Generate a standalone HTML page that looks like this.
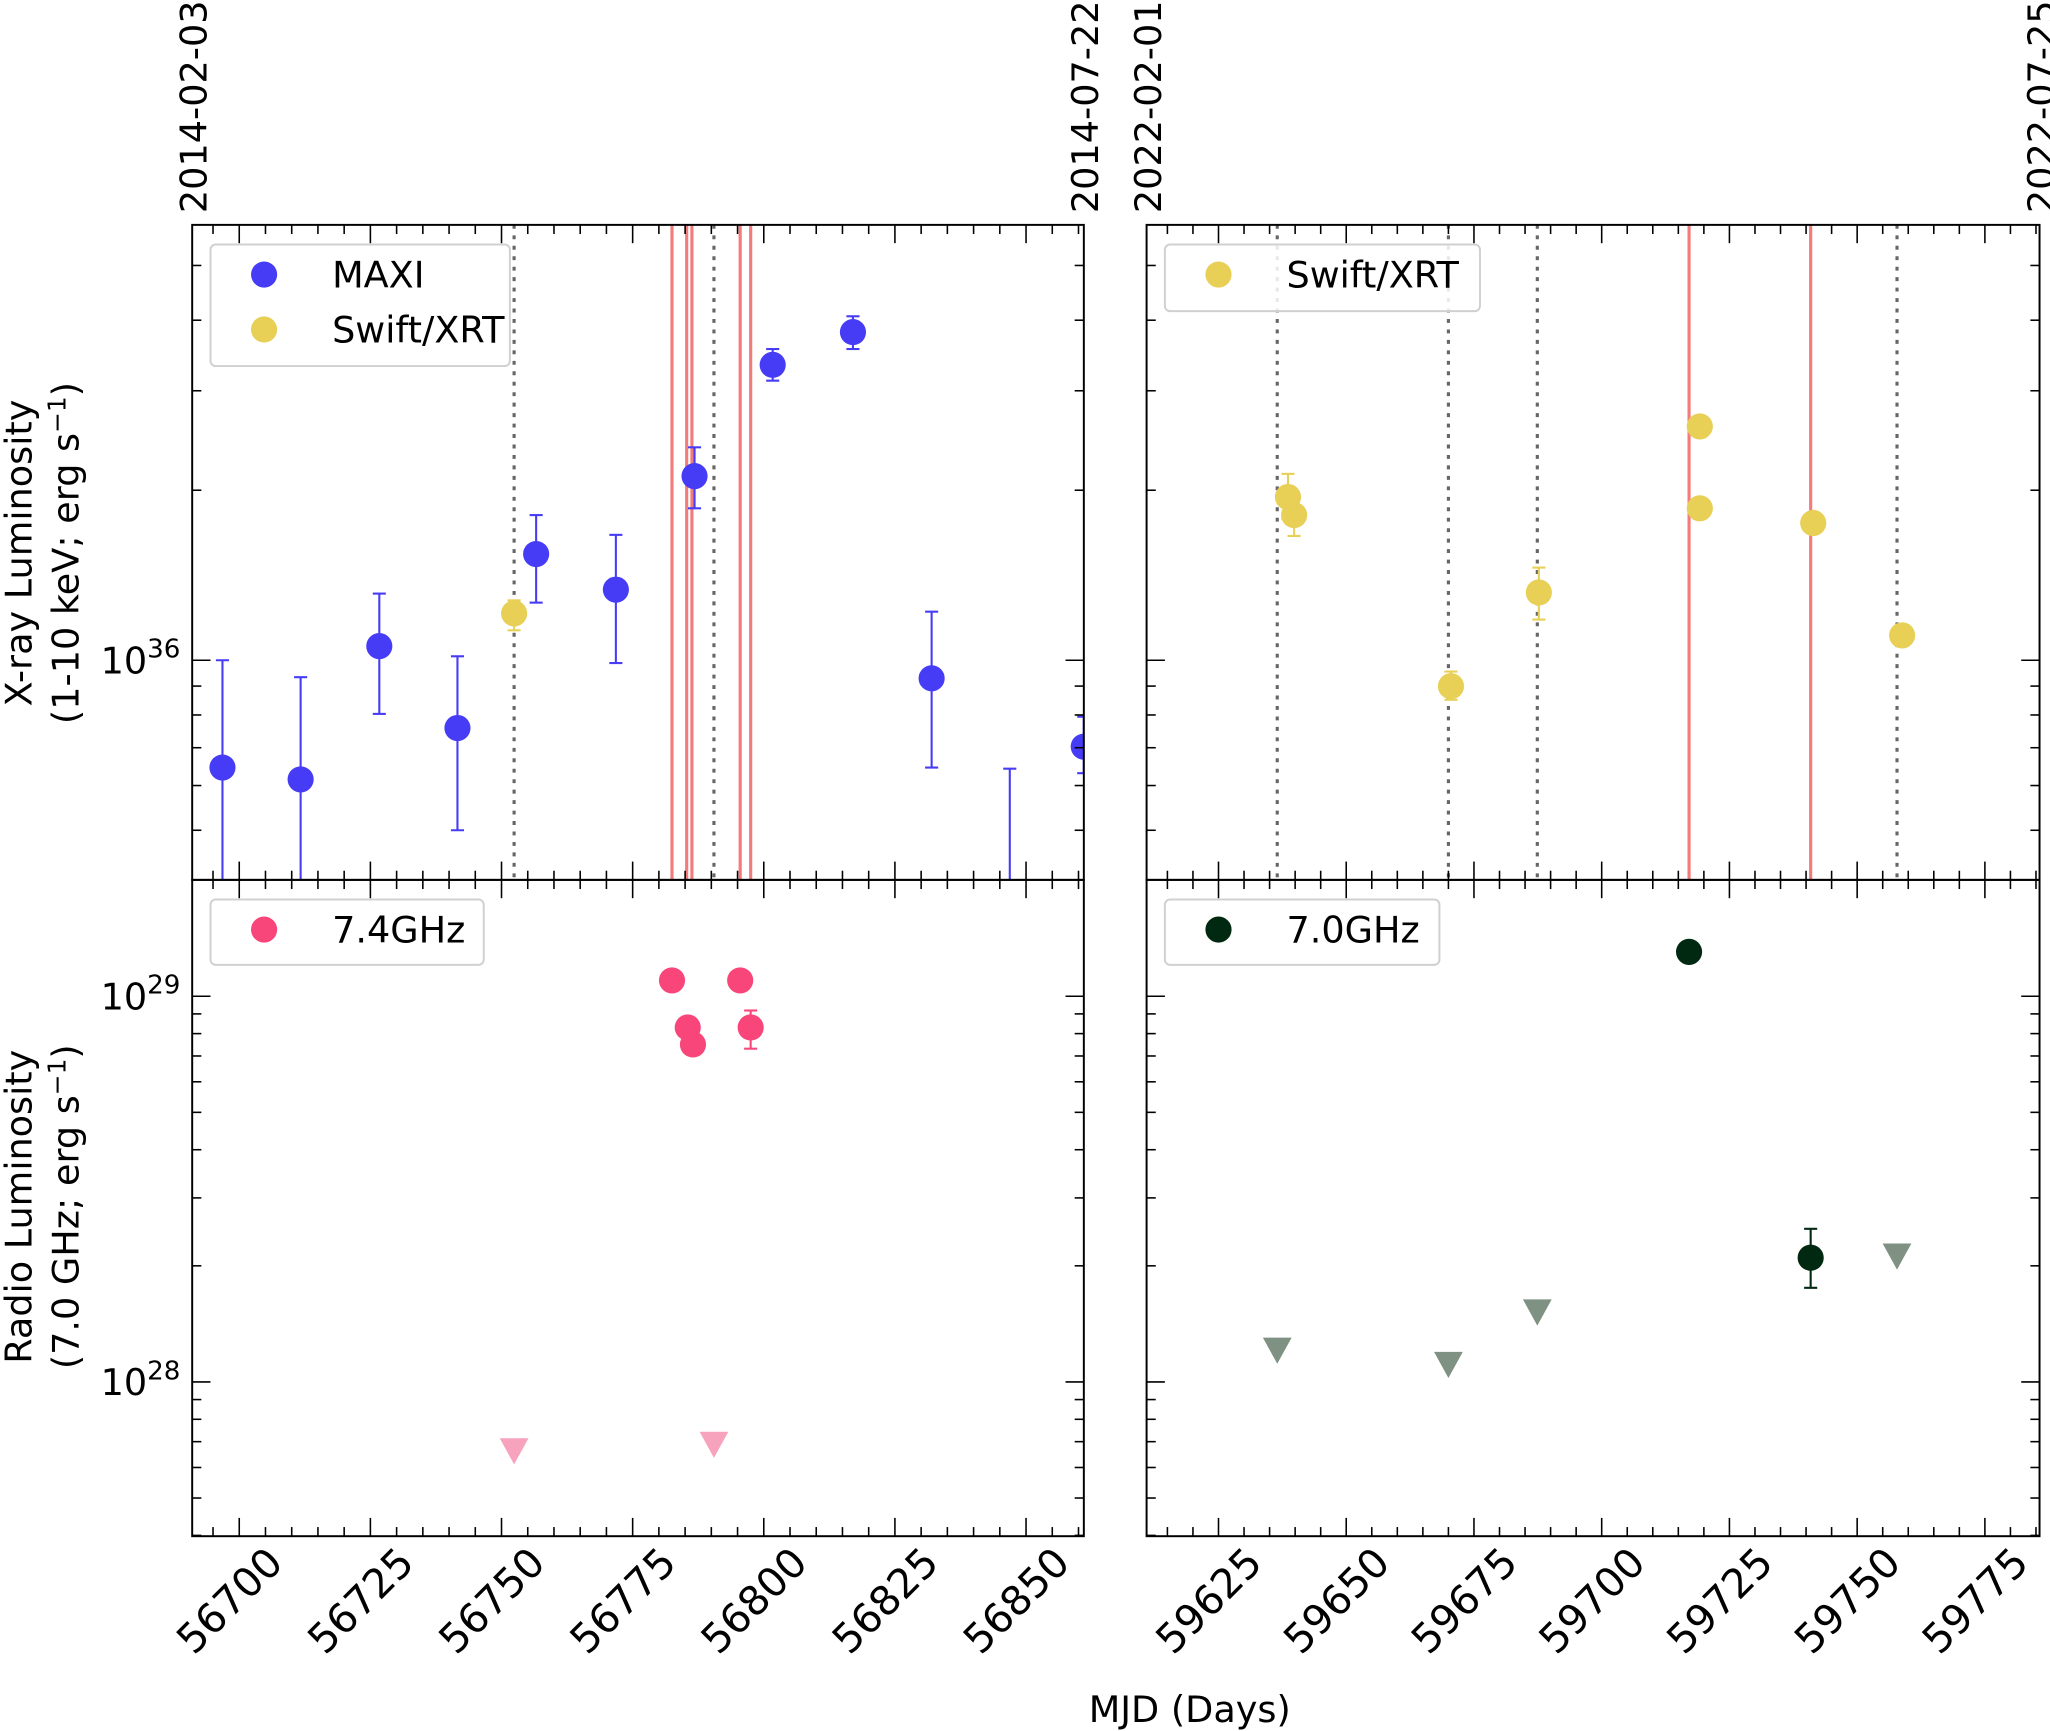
<!DOCTYPE html>
<html><head><meta charset="utf-8"><style>
html,body{margin:0;padding:0;background:#fff;}
svg{display:block;font-family:"DejaVu Sans","Liberation Sans",sans-serif;}
</style></head><body>
<svg id="fig" width="2050" height="1731" viewBox="0 0 1568 1324" xmlns="http://www.w3.org/2000/svg">
<defs>
<clipPath id="cTL"><rect x="147" y="172" width="682" height="501"/></clipPath>
<clipPath id="cTR"><rect x="877" y="172" width="683" height="501"/></clipPath>
<clipPath id="cBL"><rect x="147" y="673" width="682" height="502"/></clipPath>
<clipPath id="cBR"><rect x="877" y="673" width="683" height="502"/></clipPath>
</defs>
<g id="root"></g>
</svg>
<script>
// ---- data ----
const maxiMJD = [56696.8,56711.7,56726.7,56741.6,56756.6,56771.8,56786.8,56801.7,56817.0,56832.0,56846.9,56861.0];
const maxiLog = [35.810,35.789,36.025,35.880,36.188,36.125,36.326,36.523,36.581,35.968,35.40,35.847];
const maxiHi  = [36.000,35.970,36.118,36.007,36.257,36.222,36.377,36.551,36.609,36.086,35.808,35.90];
const maxiLo  = [35.40,35.40,35.905,35.699,36.102,35.995,36.269,36.495,36.551,35.810,35.30,35.80];
const xrtLMJD = [56752.4];
const xrtLLog = [36.083];
const xrtLHi  = [36.106];
const xrtLLo  = [36.053];
const xrtRMJD = [59638.6,59639.8,59670.5,59687.7,59719.2,59719.2,59741.4,59758.8];
const xrtRLog = [36.289,36.257,35.954,36.120,36.414,36.269,36.243,36.044];
const xrtRHi  = [36.330,36.290,35.980,36.164,36.425,36.285,36.255,36.055];
const xrtRLo  = [36.250,36.220,35.930,36.072,36.403,36.250,36.231,36.033];
const dottedL = [56752.4,56790.5];
const redL    = [56782.5,56785.3,56786.3,56795.5,56797.5];
const dottedR = [59636.5,59670.0,59687.4,59757.8];
const redR    = [59717.1,59740.9];
const r74MJD  = [56782.5,56785.5,56786.5,56795.5,56797.5];
const r74Log  = [29.041,28.919,28.875,29.041,28.919];
const r74Hi   = [29.041,28.919,28.875,29.041,28.963];
const r74Lo   = [29.041,28.919,28.875,29.041,28.864];
const r74ulMJD= [56752.4,56790.5];
const r74ulLog= [27.820,27.837];
const r70MJD  = [59717.1,59740.9];
const r70Log  = [29.115,28.322];
const r70Hi   = [29.115,28.397];
const r70Lo   = [29.115,28.244];
const r70ulMJD= [59636.5,59670.0,59687.4,59757.8];
const r70ulLog= [28.081,28.044,28.180,28.325];
const xTicksL = [56700,56725,56750,56775,56800,56825,56850];
const xTicksR = [59625,59650,59675,59700,59725,59750,59775];
// ---- layout ----
const NS="http://www.w3.org/2000/svg";
const root=document.getElementById('root');
const LX=[147,829], RX=[877,1560], TY=[172,673], BY=[673,1175];
const xL = m => 183 + (m-56700)*4.012;
const xR = m => 932 + (m-59625)*3.908;
const yT = l => 505 - (l-36)*432;
const yB = l => 762 - (l-29)*295;
function el(tag,attrs,parent){const e=document.createElementNS(NS,tag);for(const k in attrs)e.setAttribute(k,attrs[k]);(parent||root).appendChild(e);return e;}
function grp(name,clip){const g=el('g',clip?{'clip-path':'url(#'+clip+')'}:{});return g;}

function vlines(g,arr,fx,y0,y1,color,dash,name){
  arr.forEach(m=>{const l=el('line',{x1:fx(m),x2:fx(m),y1:y0,y2:y1,stroke:color,'stroke-width':2.4,'stroke-dasharray':dash||'none'},g);
  
  });
}
function points(g,mjd,lg,hi,lo,fx,fy,color,name){
  mjd.forEach((m,i)=>{const x=fx(m);
    if(hi[i]!==lo[i]){const y1=fy(hi[i]),y2=fy(lo[i]);
      el('line',{x1:x,x2:x,y1:y1,y2:y2,stroke:color,'stroke-width':1.6},g);
      el('line',{x1:x-5,x2:x+5,y1:y1,y2:y1,stroke:color,'stroke-width':1.6},g);
      el('line',{x1:x-5,x2:x+5,y1:y2,y2:y2,stroke:color,'stroke-width':1.6},g);}
    const c=el('circle',{cx:x,cy:fy(lg[i]),r:10,fill:color},g);
    
    
  });
}
function tris(g,mjd,lg,fx,fy,color,name){
  mjd.forEach((m,i)=>{const x=fx(m),y=fy(lg[i]);
    const t=el('polygon',{points:`${x-11},${y-10} ${x+11},${y-10} ${x},${y+10}`,fill:color},g);
    
    });
}
function axes(X,Y,fx,fy,xt,yMin,yMax,ticksLbl,step,name){
  const g=grp(name);
  el('rect',{x:X[0],y:Y[0],width:X[1]-X[0],height:Y[1]-Y[0],fill:'none',stroke:'#000','stroke-width':1.5},g);
  for(let m=xt[0]-50;m<=xt[xt.length-1]+50;m+=5){const x=fx(m); if(x<X[0]||x>X[1])continue;
    const L=(m%25===0)?14:7;
    el('line',{x1:x,x2:x,y1:Y[1],y2:Y[1]-L,stroke:'#000','stroke-width':1.2},g);
    el('line',{x1:x,x2:x,y1:Y[0],y2:Y[0]+L,stroke:'#000','stroke-width':1.2},g);}
  for(let d=Math.floor(yMin);d<=Math.ceil(yMax);d++){for(let k=1;k<10;k++){const l=d+Math.log10(k);if(l<yMin||l>yMax)continue;const y=fy(l);const L=k===1?14:7;
    el('line',{x1:X[0],x2:X[0]+L,y1:y,y2:y,stroke:'#000','stroke-width':1.2},g);
    el('line',{x1:X[1],x2:X[1]-L,y1:y,y2:y,stroke:'#000','stroke-width':1.2},g);
    if(k===1&&ticksLbl){const t=el('text',{x:X[0]-9,y:y+10,'text-anchor':'end','font-size':28},g);t.innerHTML='10<tspan dy="-12" font-size="20">'+d+'</tspan>';
      
      }
  }}
  return g;
}
function legend(x,y,w,h,items,name){
  const g=grp(name);
  el('rect',{x:x,y:y,width:w,height:h,rx:4,fill:'#fff','fill-opacity':0.85,stroke:'#d0d0d0','stroke-width':1.5},g);
  items.forEach((it,i)=>{const cy=y+23+i*42;
    el('circle',{cx:x+41,cy:cy,r:10,fill:it[1]},g);
    const t=el('text',{x:x+93,y:cy+10,'font-size':28},g);t.textContent=it[0];
    
    });
}
let g=grp('xray-left-lines','cTL');
vlines(g,dottedL,xL,TY[0],TY[1],'#666','3,5','dotted-line');
vlines(g,redL,xL,TY[0],TY[1],'#f37b7b',null,'red-line');
g=grp('maxi-series','cTL'); points(g,maxiMJD,maxiLog,maxiHi,maxiLo,xL,yT,'#463cf5','maxi-point');
g=grp('xrt-left-series','cTL'); points(g,xrtLMJD,xrtLLog,xrtLHi,xrtLLo,xL,yT,'#e8cf55','xrt-point');
axes(LX,TY,xL,yT,xTicksL,35.611,36.77,true,5,'xray-left-axes');
legend(161,187,229,93,[['MAXI','#463cf5'],['Swift/XRT','#e8cf55']],'legend-xray-left');
g=grp('xray-right-lines','cTR');
vlines(g,dottedR,xR,TY[0],TY[1],'#666','3,5','dotted-line');
vlines(g,redR,xR,TY[0],TY[1],'#f37b7b',null,'red-line');
g=grp('xrt-right-series','cTR'); points(g,xrtRMJD,xrtRLog,xrtRHi,xrtRLo,xR,yT,'#e8cf55','xrt-point');
axes(RX,TY,xR,yT,xTicksR,35.611,36.77,false,5,'xray-right-axes');
legend(891,187,241,51,[['Swift/XRT','#e8cf55']],'legend-xray-right');
g=grp('radio74-series','cBL');
points(g,r74MJD,r74Log,r74Hi,r74Lo,xL,yB,'#f9467a','radio74-point');
tris(g,r74ulMJD,r74ulLog,xL,yB,'#f7a3bd','radio74-upper-limit');
axes(LX,BY,xL,yB,xTicksL,27.6,29.30,true,5,'radio-left-axes');
legend(161,688,209,50,[['7.4GHz','#f9467a']],'legend-radio-left');
g=grp('radio70-series','cBR');
points(g,r70MJD,r70Log,r70Hi,r70Lo,xR,yB,'#012810','radio70-point');
tris(g,r70ulMJD,r70ulLog,xR,yB,'#7f9182','radio70-upper-limit');
axes(RX,BY,xR,yB,xTicksR,27.6,29.30,false,5,'radio-right-axes');
legend(891,688,210,50,[['7.0GHz','#012810']],'legend-radio-right');
function xlabels(ticks,fx){ticks.forEach(m=>{const x=fx(m)+35,y=1197;
  const t=el('text',{x:x,y:y,'text-anchor':'end','font-size':31,transform:`rotate(-45 ${x} ${y})`});t.textContent=m;
  
  });}
xlabels(xTicksL,xL); xlabels(xTicksR,xR);
[[158,'2014-02-03'],[840,'2014-07-22'],[888,'2022-02-01'],[1571,'2022-07-25']].forEach(d=>{
  const t=el('text',{x:d[0],y:163,'text-anchor':'start','font-size':28,transform:`rotate(-90 ${d[0]} 163)`});t.textContent=d[1];
  
  });
function ytitle(x,y,html,name){const t=el('text',{x:x,y:y,'text-anchor':'middle','font-size':28,transform:`rotate(-90 ${x} ${y})`});t.innerHTML=html;
  
  }
ytitle(24,423,'X-ray Luminosity','xray-y-title');
ytitle(60,423,'(1-10 keV; erg s<tspan dy="-10" font-size="19">−1</tspan><tspan dy="10">)</tspan>','xray-y-subtitle');
ytitle(24,923,'Radio Luminosity','radio-y-title');
ytitle(60,923,'(7.0 GHz; erg s<tspan dy="-10" font-size="19">−1</tspan><tspan dy="10">)</tspan>','radio-y-subtitle');
const xt=el('text',{x:910,y:1317,'text-anchor':'middle','font-size':28});xt.textContent='MJD (Days)';


</script>
</body></html>
